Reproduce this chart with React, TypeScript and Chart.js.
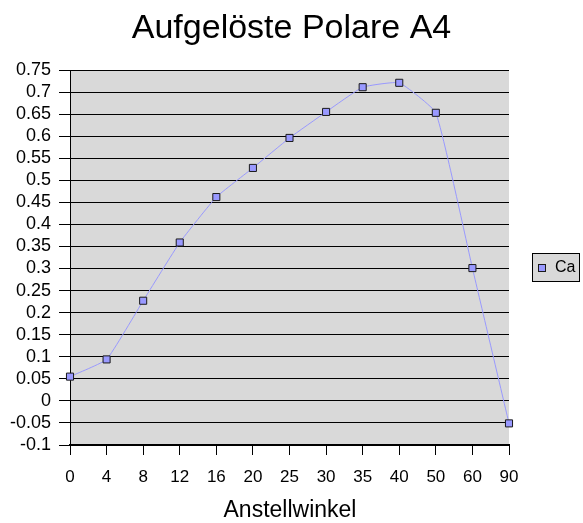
import React, { useEffect, useRef } from "react";
import { Chart, registerables } from "chart.js";

Chart.register(...registerables);

const categories = ["0", "4", "8", "12", "16", "20", "25", "30", "35", "40", "50", "60", "90"];
const caValues = [0.055, 0.094, 0.227, 0.359, 0.462, 0.528, 0.596, 0.655, 0.711, 0.721, 0.653, 0.301, -0.051];
const yMin = -0.1;
const yMax = 0.75;
const yStep = 0.05;
const chartTitle = "Aufgelöste Polare A4";
const xAxisTitle = "Anstellwinkel";
const seriesName = "Ca";

const FONT = '"Liberation Sans", Arial, sans-serif';
const LINE_COLOR = "#9999ff";
const POINT_FILL = "#9999ff";
const POINT_BORDER = "#1a1a1a";
const PLOT_BG = "#d9d9d9";

const decorPlugin = {
  id: "decor",
  beforeDraw(chart: any) {
    const { ctx, chartArea } = chart;
    const { left, top, right, bottom } = chartArea;
    ctx.save();
    ctx.fillStyle = PLOT_BG;
    ctx.fillRect(left, top, right - left, bottom - top);
    ctx.restore();
  },
  afterDraw(chart: any) {
    const { ctx, width } = chart;
    ctx.save();
    ctx.fillStyle = "#000";
    ctx.font = `34px ${FONT}`;
    ctx.textAlign = "center";
    ctx.textBaseline = "middle";
    ctx.fillText(chartTitle, width / 2, 29);
    ctx.font = `23px ${FONT}`;
    ctx.fillText(xAxisTitle, 290, 511);
    const bx = 532.5, by = 253.5, bw = 47, bh = 28;
    ctx.fillStyle = PLOT_BG;
    ctx.fillRect(bx, by, bw, bh);
    ctx.strokeStyle = "#000";
    ctx.lineWidth = 1;
    ctx.strokeRect(bx, by, bw, bh);
    ctx.fillStyle = POINT_FILL;
    ctx.fillRect(538.5, 264.5, 7, 7);
    ctx.strokeStyle = POINT_BORDER;
    ctx.strokeRect(538.5, 264.5, 7, 7);
    ctx.fillStyle = "#000";
    ctx.font = `16px ${FONT}`;
    ctx.textAlign = "left";
    ctx.textBaseline = "middle";
    ctx.fillText(seriesName, 555, 268);
    ctx.restore();
  },
};

function fmt(v: number): string {
  return String(Number(v.toFixed(2)));
}

export default function App() {
  const canvasRef = useRef<HTMLCanvasElement | null>(null);

  useEffect(() => {
    document.body.style.margin = "0";
    const canvas = canvasRef.current;
    if (!canvas) return;
    const chart = new Chart(canvas, {
      type: "line",
      data: {
        labels: categories,
        datasets: [
          {
            label: seriesName,
            data: caValues,
            borderColor: LINE_COLOR,
            borderWidth: 1,
            backgroundColor: POINT_FILL,
            pointStyle: "rect",
            pointRadius: 5,
            pointBackgroundColor: POINT_FILL,
            pointBorderColor: POINT_BORDER,
            pointBorderWidth: 1,
            tension: 0.12,
            fill: false,
          },
        ],
      },
      options: {
        animation: false,
        responsive: true,
        maintainAspectRatio: false,
        layout: { padding: { top: 70, right: 74, left: 0, bottom: 0 } },
        plugins: {
          legend: { display: false },
          title: { display: false },
          tooltip: { enabled: false },
        },
        scales: {
          x: {
            type: "category",
            offset: false,
            grid: {
              display: true,
              drawOnChartArea: false,
              drawTicks: true,
              tickLength: 10,
              color: "#000",
            },
            border: { color: "#000", width: 2 },
            ticks: {
              color: "#000",
              font: { family: FONT, size: 17 },
              padding: 12,
              maxRotation: 0,
              autoSkip: false,
            },
            afterFit(scale: any) {
              scale.height = 78;
            },
          },
          y: {
            min: yMin,
            max: yMax,
            grid: {
              color: "#000",
              lineWidth: 1,
              drawTicks: true,
              tickLength: 11,
            },
            border: { color: "#000", width: 1 },
            ticks: {
              stepSize: yStep,
              autoSkip: false,
              maxTicksLimit: 40,
              color: "#000",
              font: { family: FONT, size: 18 },
              padding: 8,
              callback: (v: any) => fmt(Number(v)),
            },
            afterFit(scale: any) {
              scale.width = 70;
            },
          },
        },
      },
      plugins: [decorPlugin],
    });
    return () => chart.destroy();
  }, []);

  return (
    <div style={{ position: "relative", width: 583, height: 523 }}>
      <canvas ref={canvasRef} />
    </div>
  );
}
